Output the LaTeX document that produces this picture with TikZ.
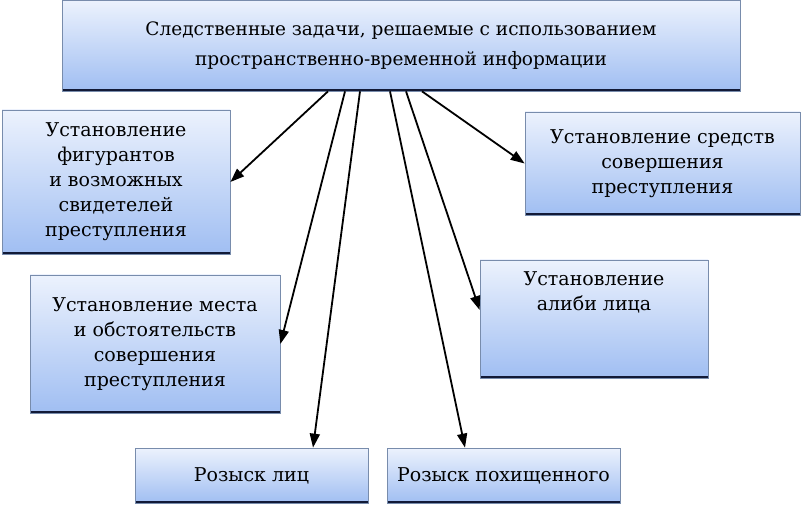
\documentclass[tikz,border=0pt]{standalone}
\usepackage{fontspec}
\setmainfont{DejaVu Serif}
\usepackage{xcolor}
\usetikzlibrary{arrows.meta,positioning}

\definecolor{boxtop}{RGB}{236,242,253}
\definecolor{boxbottom}{RGB}{160,190,242}
\definecolor{boxedge}{RGB}{120,140,172}
\definecolor{boxshade}{RGB}{18,26,55}

\begin{document}
\begin{tikzpicture}[
    x=1pt, y=-1pt,
    task/.style={
        rectangle, draw=boxedge, line width=0.7pt,
        top color=boxtop, bottom color=boxbottom,
        align=center, font=\fontsize{19}{25}\selectfont,
        inner sep=0pt,
        path picture={\draw[boxshade, line width=3.5pt]
            (path picture bounding box.south west) -- (path picture bounding box.south east);}
    },
    tasktext/.style={align=center, font=\fontsize{19}{25}\selectfont, inner sep=0pt},
    arrow/.style={-{Triangle[length=14pt,width=10pt]}, line width=1.8pt}
]
\useasboundingbox (0,0) rectangle (801,505);

% Top: main question
\node[task, minimum width=678pt, minimum height=91pt,
      font=\fontsize{18.5}{30}\selectfont] (main) at (401,45.5)
    {Следственные задачи, решаемые с использованием\\пространственно-временной информации};

% Left column
\node[task, minimum width=228pt, minimum height=144pt] (fig) at (116,182)
    {Установление\\фигурантов\\и возможных\\свидетелей\\преступления};
\node[task, minimum width=250pt, minimum height=138pt] (place) at (155,344)
    {Установление места\\и обстоятельств\\совершения\\преступления};

% Right column
\node[task, minimum width=275pt, minimum height=103pt] (means) at (662.5,163.5)
    {Установление средств\\совершения\\преступления};
\node[task, minimum width=228pt, minimum height=118pt] (alibi) at (594,319) {};
\node[tasktext, below=12pt of alibi.north] (alibitext) {Установление\\алиби лица};

% Bottom row
\node[task, minimum width=233pt, minimum height=55pt] (search) at (251.5,475.5) {Розыск лиц};
\node[task, minimum width=233pt, minimum height=55pt] (stolen) at (503.5,475.5) {Розыск похищенного};

% Arrows
\draw[arrow] ([xshift=-73pt]main.south) -- (fig.east);
\draw[arrow] ([xshift=-56pt]main.south) -- (place.east);
\draw[arrow] ([xshift=-41pt]main.south) -- ([xshift=61.5pt]search.north);
\draw[arrow] ([xshift=-11pt]main.south) -- ([xshift=-38.5pt]stolen.north);
\draw[arrow] ([xshift=5pt]main.south) -- ([yshift=9pt]alibi.west);
\draw[arrow] ([xshift=21pt]main.south) -- (means.west);

\end{tikzpicture}
\end{document}
